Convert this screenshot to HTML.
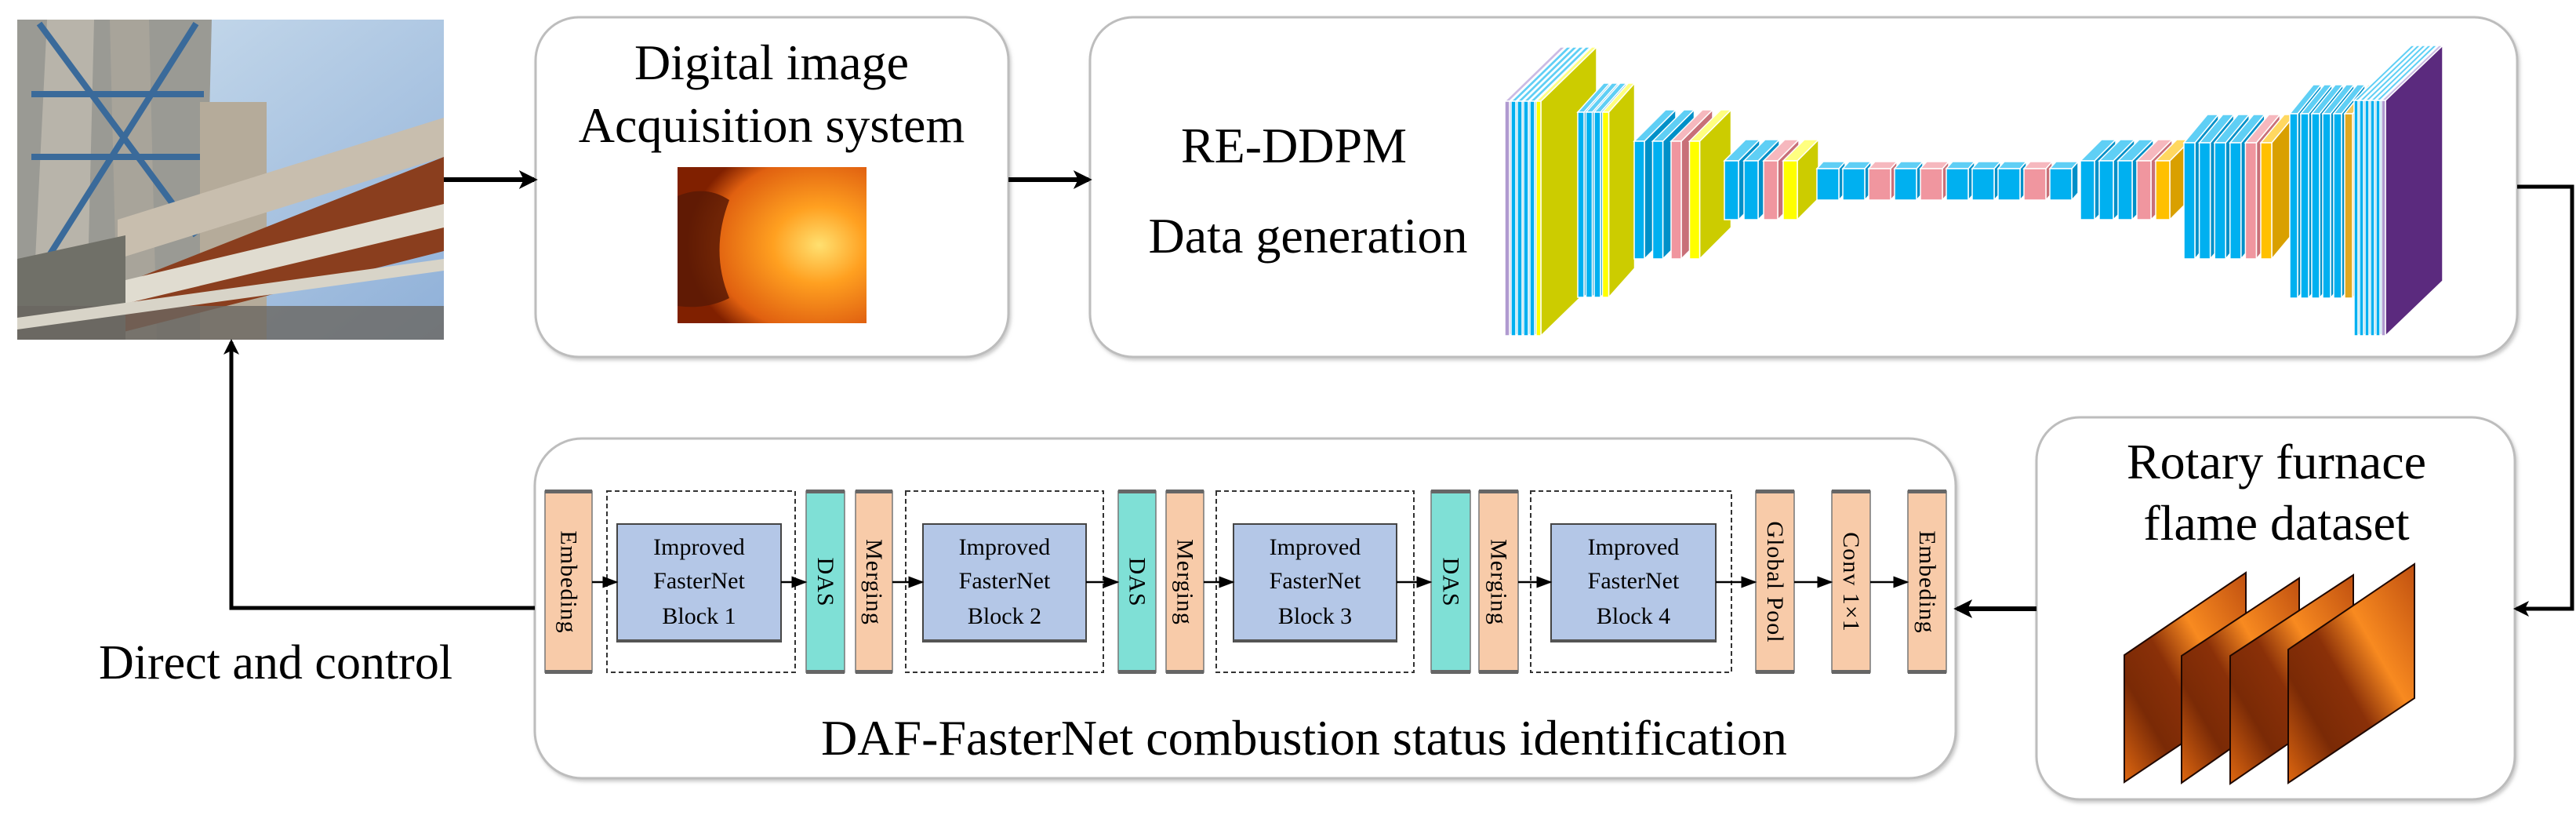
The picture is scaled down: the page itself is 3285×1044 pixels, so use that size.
<!DOCTYPE html>
<html><head><meta charset="utf-8"><style>
html,body{margin:0;padding:0;background:#fff;}
svg{display:block;}
svg text{font-family:"Liberation Serif","Times New Roman",serif !important;fill:#000;}
</style></head><body>
<svg id="s" width="3285" height="1044" viewBox="0 0 3285 1044" xmlns="http://www.w3.org/2000/svg" font-family="'Liberation Serif', serif">
<defs>
<linearGradient id="sky" x1="0" y1="0" x2="1" y2="1"><stop offset="0" stop-color="#cfe0ee"/><stop offset="1" stop-color="#8fb0d8"/></linearGradient>
<radialGradient id="fl" cx="0.75" cy="0.5" r="0.7"><stop offset="0" stop-color="#ffe070"/><stop offset="0.35" stop-color="#ffa020"/><stop offset="0.8" stop-color="#e06010"/><stop offset="1" stop-color="#802000"/></radialGradient>
<linearGradient id="fp" x1="0" y1="1" x2="1" y2="0"><stop offset="0" stop-color="#e06810"/><stop offset="0.25" stop-color="#7a2a06"/><stop offset="0.45" stop-color="#8a3008"/><stop offset="0.65" stop-color="#f88a20"/><stop offset="1" stop-color="#c05010"/></linearGradient>
<marker id="ah" markerWidth="4" markerHeight="4" refX="3.2" refY="2" orient="auto" markerUnits="strokeWidth"><path d="M0,0 L4,2 L0,4 L1,2 z" fill="#000"/></marker>
<marker id="as" markerWidth="8" markerHeight="8" refX="7" refY="4" orient="auto" markerUnits="strokeWidth"><path d="M0,1 L8,4 L0,7 z" fill="#000"/></marker>
<filter id="sh" x="-5%" y="-5%" width="110%" height="115%"><feDropShadow dx="2" dy="3" stdDeviation="2" flood-color="#999" flood-opacity="0.5"/></filter>
</defs>

<!-- photo -->
<g>
<rect x="22" y="25" width="544" height="408" fill="url(#sky)"/>
<polygon points="22,25 150,25 270,25 260,433 22,433" fill="#9a9a94"/>
<polygon points="60,25 120,25 110,433 40,433" fill="#b8b4aa"/>
<polygon points="140,25 190,25 200,433 150,433" fill="#a8a49a"/>
<path d="M50,30 L250,300 M250,30 L60,330 M40,120 L260,120 M40,200 L260,200" stroke="#3a6a9a" stroke-width="8"/>
<rect x="255" y="130" width="85" height="303" fill="#b5ab9a"/>
<polygon points="150,280 566,150 566,200 150,330" fill="#c8beae"/>
<polygon points="110,380 566,200 566,320 130,430" fill="#8a3e1e"/>
<polygon points="22,390 566,260 566,290 22,420" fill="#e0dcd0"/>
<polygon points="22,330 160,300 160,433 22,433" fill="#707068"/>
<rect x="22" y="390" width="544" height="43" fill="#6a6660" opacity="0.8"/>
<polygon points="22,405 566,330 566,345 22,420" fill="#d8d4c8"/>
</g>

<!-- box1 -->
<rect x="683" y="22" width="603" height="433" rx="55" fill="#fff" stroke="#bdbdbd" stroke-width="3" filter="url(#sh)"/>
<text x="984" y="101" font-size="64" text-anchor="middle">Digital image</text>
<text x="984" y="181" font-size="64" text-anchor="middle">Acquisition system</text>
<rect x="864" y="213" width="241" height="199" fill="url(#fl)"/>
<path d="M864,250 Q900,235 930,255 Q905,320 930,380 Q900,395 864,390 z" fill="#5a1a05" opacity="0.85"/>

<!-- box2 -->
<rect x="1390" y="22" width="1820" height="433" rx="55" fill="#fff" stroke="#bdbdbd" stroke-width="3" filter="url(#sh)"/>
<text x="1650" y="207" font-size="64" text-anchor="middle">RE-DDPM</text>
<text x="1668" y="322" font-size="64" text-anchor="middle">Data generation</text>
<g id="net"></g>

<!-- rotary box -->
<rect x="2597" y="532" width="610" height="487" rx="55" fill="#fff" stroke="#bdbdbd" stroke-width="3" filter="url(#sh)"/>
<text x="2903" y="610" font-size="64" text-anchor="middle">Rotary furnace</text>
<text x="2903" y="688" font-size="64" text-anchor="middle">flame dataset</text>
<g>
<polygon points="2709,997 2709,835 2864,730 2864,893" fill="url(#fp)" stroke="#200800" stroke-width="2"/>
<polygon points="2782,998 2782,836 2932,737 2932,893" fill="url(#fp)" stroke="#200800" stroke-width="2"/>
<polygon points="2844,999 2844,836 3001,733 3001,891" fill="url(#fp)" stroke="#200800" stroke-width="2"/>
<polygon points="2918,998 2918,828 3079,719 3079,890" fill="url(#fp)" stroke="#200800" stroke-width="2"/>
</g>

<!-- bottom box -->
<rect x="682" y="559" width="1812" height="433" rx="60" fill="#fff" stroke="#bdbdbd" stroke-width="3" filter="url(#sh)"/>
<text x="1663" y="962" font-size="64" text-anchor="middle">DAF-FasterNet combustion status identification</text>
<g id="blk" font-size="30"></g>

<text x="126" y="865" font-size="62">Direct and control</text>

<!-- connectors -->
<g stroke="#000" fill="none">
<line x1="566" y1="229" x2="681" y2="229" stroke-width="6" marker-end="url(#ah)"/>
<line x1="1286" y1="229" x2="1388" y2="229" stroke-width="6" marker-end="url(#ah)"/>
<polyline points="3210,238 3280,238 3280,776 3209,776" stroke-width="5" marker-end="url(#ah)"/>
<line x1="2597" y1="776" x2="2496" y2="776" stroke-width="6" marker-end="url(#ah)"/>
<polyline points="682,775 295,775 295,436" stroke-width="5" marker-end="url(#ah)"/>
</g>
</svg>
<script>
var NS="http://www.w3.org/2000/svg";
function el(p,n,a,t){var e=document.createElementNS(NS,n);for(var k in a)e.setAttribute(k,a[k]);if(t)e.textContent=t;p.appendChild(e);return e;}
var net=document.getElementById("net");
var C={b:["#00b0f0","#5fcff5","#0090c8"],p:["#f0969f","#f6b8be","#c87078"],y:["#ffff00","#ffff80","#cccc00"],o:["#ffc000","#ffd860","#d9a000"],g:["#e0a820","#f0c860","#d4a017"],l:["#b09ad0","#cbbbe4","#8a70b0"],v:["#b09ad0","#cbbbe4","#5b2a7e"]};
function grp(x0,pitch,w,yt,yb,dx,dy,cols){
 for(var i=0;i<cols.length;i++){var c=C[cols[i]];var x=x0+i*pitch;
  el(net,"polygon",{points:(x+w)+","+yt+" "+(x+w+dx)+","+(yt-dy)+" "+(x+w+dx)+","+(yb-dy)+" "+(x+w)+","+yb,fill:c[2],stroke:"#fff","stroke-width":1.5});
  el(net,"polygon",{points:x+","+yt+" "+(x+dx)+","+(yt-dy)+" "+(x+w+dx)+","+(yt-dy)+" "+(x+w)+","+yt,fill:c[1],stroke:"#fff","stroke-width":1.5});
  el(net,"rect",{x:x,y:yt,width:w,height:yb-yt,fill:c[0],stroke:"#fff","stroke-width":1.5});
 }}
grp(1919,8,6,129,428,71,69,["l","b","b","b","b","y"]);
grp(2012,10.5,8,143,379,33,37,["b","b","b","y"]);
grp(2084,23.5,13,180,330,40,40,["b","b","p","y"]);
grp(2199,25,18,205,280,27,27,["b","b","p","y"]);
grp(2317,33,28,215,255,8,9,["b","b","p","b","p","b","b","b","p","b"]);
grp(2653,24,18,205,280,27,27,["b","b","b","p","o"]);
grp(2785,19.6,14,182,330,30,36,["b","b","b","b","p","o"]);
grp(2920,14,10,145,380,30,37,["b","b","b","b","b","g"]);
grp(3002,7,5,128,428,73,70,["b","b","b","b","b","v"]);

var blk=document.getElementById("blk");
var T=626,B=857,MY=742;
function bar(x,w,col,label){
 el(blk,"rect",{x:x,y:T,width:w,height:B-T,fill:col,stroke:"#777","stroke-width":1.5});
 el(blk,"rect",{x:x,y:T-2,width:w,height:5,fill:"#666"});
 el(blk,"rect",{x:x,y:B-3,width:w,height:5,fill:"#666"});
 var cx=x+w/2;
 el(blk,"text",{x:cx,y:MY,"text-anchor":"middle","dominant-baseline":"central",transform:"rotate(90 "+cx+" "+MY+")","font-size":30,"letter-spacing":"1"},label);
}
function block(dx0,dx1,ix0,ix1,n){
 el(blk,"rect",{x:dx0,y:T,width:dx1-dx0,height:B-T,fill:"none",stroke:"#333","stroke-width":2,"stroke-dasharray":"6,4"});
 el(blk,"rect",{x:ix0,y:668,width:ix1-ix0,height:150,fill:"#b4c7e7",stroke:"#444","stroke-width":2});
 el(blk,"rect",{x:ix0,y:815,width:ix1-ix0,height:4,fill:"#555"});
 var cx=(ix0+ix1)/2;
 el(blk,"text",{x:cx,y:707,"text-anchor":"middle"},"Improved");
 el(blk,"text",{x:cx,y:750,"text-anchor":"middle"},"FasterNet");
 el(blk,"text",{x:cx,y:795,"text-anchor":"middle"},"Block "+n);
}
function arr(x1,x2){el(blk,"line",{x1:x1,y1:MY,x2:x2-1,y2:MY,stroke:"#000","stroke-width":2.5,"marker-end":"url(#as)"});}
var PE="#f8cba9",TE="#7fe0d6";
bar(695,60,PE,"Embeding");
block(774,1014,787,996,1); bar(1028,49,TE,"DAS"); bar(1091,47,PE,"Merging");
block(1155,1407,1177,1385,2); bar(1426,48,TE,"DAS"); bar(1487,48,PE,"Merging");
block(1551,1803,1573,1781,3); bar(1825,50,TE,"DAS"); bar(1886,50,PE,"Merging");
block(1952,2208,1978,2188,4);
bar(2239,49,PE,"Global Pool"); bar(2336,49,PE,"Conv 1×1"); bar(2433,49,PE,"Embeding");
arr(755,787);arr(996,1028);arr(1138,1177);arr(1385,1426);arr(1535,1573);arr(1781,1825);arr(1936,1978);arr(2188,2239);arr(2288,2336);arr(2385,2433);
</script>
</body></html>
